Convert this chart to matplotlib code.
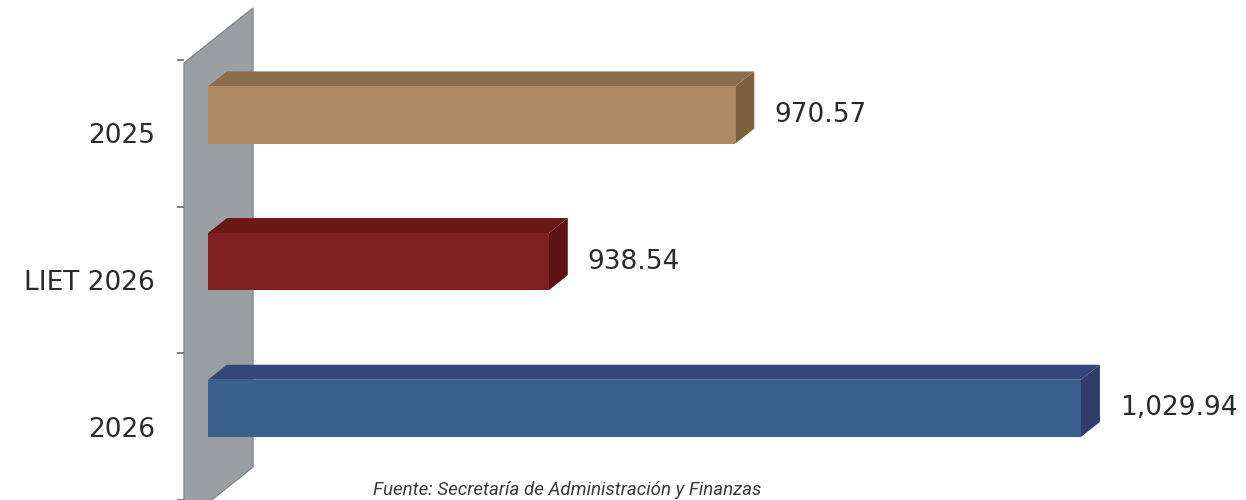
import matplotlib
matplotlib.use("Agg")
import matplotlib.pyplot as plt
from matplotlib.patches import Polygon

# datos
categorias = ["2025", "LIET 2026", "2026"]
valores = [970.57, 938.54, 1029.94]
etiquetas = ["970.57", "938.54", "1,029.94"]
base = 880.0

col_frente = ["#ad8a63", "#7f1f1f", "#3a5f8c"]
col_arriba = ["#8b6d4b", "#6a1818", "#33477a"]
col_lado = ["#7a5f40", "#5c1313", "#2f3c68"]

fig = plt.figure(figsize=(12.46, 5.0), dpi=100)
ax = fig.add_axes([184 / 1246, 0.0, 1 - 184 / 1246, 0.88])

xmin, xmax = 875.88, 1058.3
ax.set_xlim(xmin, xmax)
ax.set_ylim(2.5, -0.5)

# escala px por unidad
px_x = (1246 - 184) / (xmax - xmin)
px_y = 440 / 3.0
dx = 19 / px_x
dy = 15 / px_y

# pared gris (efecto 3d)
wall_w = 69 / px_x
pared = Polygon([(xmin, -0.5 + 3 / px_y), (xmin + wall_w, -0.5 - 52 / px_y),
                 (xmin + wall_w, 2.5 - 33 / px_y), (xmin, 2.5 + 22 / px_y)],
                closed=True, facecolor="#999fa2", edgecolor="#858a8d", lw=1,
                clip_on=False, zorder=1)
ax.add_patch(pared)

alto = 0.39
desp = -0.125
for i, v in enumerate(valores):
    yc = i + desp
    top, bot = yc - alto / 2, yc + alto / 2
    ax.barh(yc, v - base, left=base, height=alto, color=col_frente[i], zorder=3)
    # cara superior
    ax.add_patch(Polygon([(base, top), (v, top), (v + dx, top - dy), (base + dx, top - dy)],
                         closed=True, facecolor=col_arriba[i], edgecolor="none",
                         zorder=2, clip_on=False))
    # cara lateral
    ax.add_patch(Polygon([(v, top), (v + dx, top - dy), (v + dx, bot - dy), (v, bot)],
                         closed=True, facecolor=col_lado[i], edgecolor="none",
                         zorder=2, clip_on=False))
    ax.annotate(etiquetas[i], (v, yc), xytext=(28, 0), textcoords="offset points",
                va="center", ha="left", fontsize=19, color="#2a2a2a",
                family="DejaVu Sans")

for s in ax.spines.values():
    s.set_visible(False)
ax.set_xticks([])
ax.set_yticks(range(len(categorias)))
ax.set_yticklabels(categorias, fontsize=19, color="#2a2a2a", family="DejaVu Sans")
ax.tick_params(axis="y", which="major", length=0, pad=21)
ax.set_yticks([-0.5, 0.5, 1.5, 2.5], minor=True)
ax.tick_params(axis="y", which="minor", length=5, width=1.2, color="#6a6a6a")

fig.text(0.455, 0.01, "Fuente: Secretaría de Administración y Finanzas",
         ha="center", va="baseline", fontsize=13.5, style="italic",
         color="#3a3a3a", family="Roboto")

fig.savefig("out.png", dpi=100)
